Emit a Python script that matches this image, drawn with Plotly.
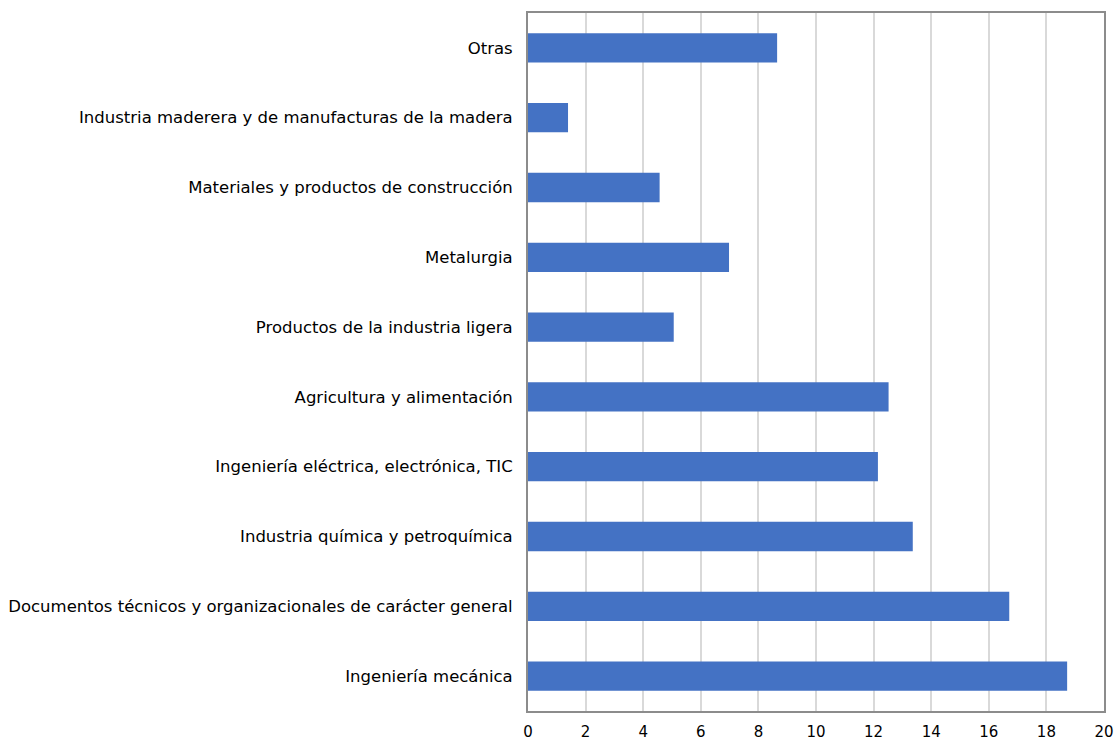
import plotly.graph_objects as go

categories = [
    "Ingeniería mecánica",
    "Documentos técnicos y organizacionales de carácter general",
    "Industria química y petroquímica",
    "Ingeniería eléctrica, electrónica, TIC",
    "Agricultura y alimentación",
    "Productos de la industria ligera",
    "Metalurgia",
    "Materiales y productos de construcción",
    "Industria maderera y de manufacturas de la madera",
    "Otras",
]
values = [18.72, 16.71, 13.36, 12.15, 12.52, 5.06, 6.98, 4.57, 1.39, 8.65]
x_ticks = list(range(0, 21, 2))

fig = go.Figure(go.Bar(
    y=categories, x=values, orientation="h",
    marker=dict(color="#4472C4", line=dict(width=0)),
))

fig.update_layout(
    width=1117, height=742,
    margin=dict(l=528, r=13, t=13, b=31, autoexpand=False),
    paper_bgcolor="white", plot_bgcolor="white",
    bargap=0.58,
    showlegend=False,
    font=dict(family="DejaVu Sans", size=16, color="#000000"),
)
fig.update_xaxes(
    range=[0, 20], tickvals=x_ticks, showgrid=True, gridcolor="#D9D9D9", gridwidth=1.5,
    zeroline=False, showline=True, linecolor="#8C8C8C", linewidth=2, mirror=True,
    ticks="", ticklabelstandoff=6, tickfont=dict(size=15), automargin=False,
)
fig.update_yaxes(
    categoryorder="array", categoryarray=categories,
    showline=True, linecolor="#8C8C8C", linewidth=2, mirror=True,
    ticks="", ticklabelstandoff=10, tickfont=dict(size=16.5), showgrid=False,
    automargin=False,
)

fig.write_html(
    "out.html",
    config={"displayModeBar": False},
    post_script="document.body.style.margin='0';document.body.style.overflow='hidden';",
)
